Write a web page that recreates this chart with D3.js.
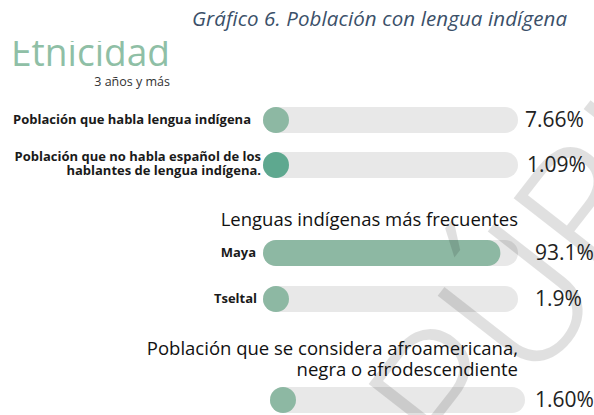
<!DOCTYPE html>
<html>
<head>
<meta charset="utf-8">
<script src="https://cdn.jsdelivr.net/npm/d3@7"></script>
<style>
  body { margin: 0; background: #fff; }
  text { font-family: "Open Sans", Lato, sans-serif; }
</style>
</head>
<body>
<div id="canvas"></div>
<script>
// data
const rowLabels = [
    ["Población que habla lengua indígena"],
    ["Población que no habla español de los", "hablantes de lengua indígena."],
    ["Maya"],
    ["Tseltal"],
    [""]
];
const rowValues = [7.66, 1.09, 93.1, 1.9, 1.60];
const valueLabels = ["7.66%", "1.09%", "93.1%", "1.9%", "1.60%"];
const sectionTitles = [
    ["Lenguas indígenas más frecuentes"],
    ["Población que se considera afroamericana,", "negra o afrodescendiente"]
];

const width = 594, height = 415;
const green = "#8db8a3", teal = "#5ea88f", track = "#e8e8e8";

// layout of each row (not data)
const rowY = [120, 165, 253, 299, 400];
const trackX0 = [263, 263, 263, 263, 270];
const trackW = 255;
const barH = 26;
const labelEnd = [251, 261, 256, 257, 0];
const valueX = [525, 527, 535, 535, 535];
const fills = [green, teal, green, green, green];

const svg = d3.select("#canvas").append("svg")
    .attr("width", width)
    .attr("height", height);

// Title
svg.append("text")
    .text("Gráfico 6. Población con lengua indígena")
    .attr("x", 567)
    .attr("y", 26)
    .attr("text-anchor", "end")
    .attr("textLength", 375)
    .attr("fill", "#3b5069")
    .style("font-style", "italic")
    .style("font-size", "20.5px");

// Etnicidad (top cut off)
svg.append("clipPath").attr("id", "cut")
    .append("rect").attr("x", 0).attr("y", 41).attr("width", 200).attr("height", 40);

svg.append("text")
    .text("Etnicidad")
    .attr("clip-path", "url(#cut)")
    .attr("x", 11)
    .attr("y", 66)
    .attr("textLength", 159)
    .attr("lengthAdjust", "spacingAndGlyphs")
    .attr("fill", "#8fbfa6")
    .style("font-size", "38px");

svg.append("text")
    .text("3 años y más")
    .attr("x", 170)
    .attr("y", 86)
    .attr("text-anchor", "end")
    .attr("fill", "#333")
    .style("font-size", "12.5px");

// watermark (over bars, behind texts)
const bars = svg.append("g");
svg.append("text")
    .text("PÚBLICO")
    .attr("transform", "translate(462,478) rotate(-52)")
    .attr("fill", "#000")
    .attr("fill-opacity", 0.12)
    .style("font-family", "Roboto, sans-serif")
    .style("font-weight", 300)
    .style("font-size", "185px");

// bars
const x = d3.scaleLinear().domain([0, 100]).range([0, trackW]);

const rows = bars.selectAll("g.row")
    .data(rowValues)
    .enter()
    .append("g")
    .attr("class", "row")
    .attr("transform", (d, i) => `translate(0,${rowY[i]})`);

rows.append("rect")
    .attr("x", (d, i) => trackX0[i])
    .attr("y", -barH / 2)
    .attr("width", trackW)
    .attr("height", barH)
    .attr("rx", barH / 2)
    .attr("fill", track);

rows.append("rect")
    .attr("x", (d, i) => trackX0[i])
    .attr("y", -barH / 2)
    .attr("width", d => Math.max(barH, x(d)))
    .attr("height", barH)
    .attr("rx", barH / 2)
    .attr("fill", (d, i) => fills[i]);

const texts = svg.append("g");

texts.selectAll("text.value")
    .data(rowValues)
    .enter()
    .append("text")
    .attr("class", "value")
    .text((d, i) => valueLabels[i])
    .attr("x", (d, i) => valueX[i])
    .attr("y", (d, i) => rowY[i] + 7)
    .attr("fill", "#222")
    .style("font-weight", 500)
    .style("font-size", "21px");

rowLabels.forEach((lines, i) => {
    const off = lines.length > 1 ? -4 : 4;
    lines.forEach((line, j) => {
        if (!line) return;
        texts.append("text")
            .text(line)
            .attr("x", labelEnd[i])
            .attr("y", rowY[i] + off + j * 13.5)
            .attr("text-anchor", "end")
            .attr("fill", "#1a1a1a")
            .style("font-weight", "bold")
            .style("font-size", "13px");
    });
});

// section headers
const sectionY = [226, 355];
sectionTitles.forEach((lines, k) => {
    lines.forEach((line, j) => {
        texts.append("text")
            .text(line)
            .attr("x", 518)
            .attr("y", sectionY[k] + j * 20.5)
            .attr("text-anchor", "end")
            .attr("fill", "#111")
            .style("font-weight", 500)
            .style("font-size", "18.5px");
    });
});
</script>
</body>
</html>
